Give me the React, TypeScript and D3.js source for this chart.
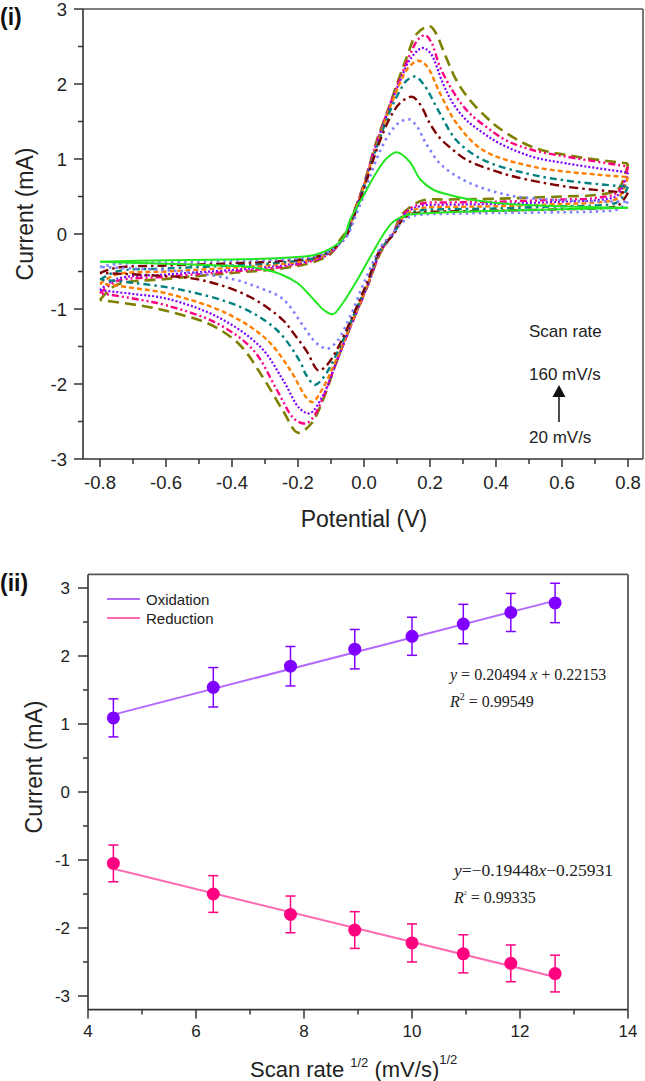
import React from "react";
import * as d3 from "d3";

type P = [number, number];

// ---------- Panel (i): cyclic voltammograms (potential V, current mA) ----------
const scanRates = [20, 40, 60, 80, 100, 120, 140, 160];

const fwd20: P[] = [[-0.8,-0.37],[-0.6,-0.35],[-0.4,-0.34],[-0.25,-0.32],[-0.15,-0.28],[-0.1,-0.19],[-0.063,-0.06],[-0.042,0.19],[-0.003,0.5],[0.039,0.83],[0.069,1.01],[0.1,1.09],[0.139,0.96],[0.17,0.73],[0.21,0.59],[0.26,0.52],[0.31,0.47],[0.41,0.41],[0.6,0.37],[0.8,0.35]];
const rev20: P[] = [[0.8,0.35],[0.6,0.33],[0.4,0.31],[0.25,0.29],[0.2,0.28],[0.13,0.25],[0.088,0.16],[0.058,-0.01],[0.03,-0.22],[0.008,-0.39],[-0.02,-0.61],[-0.064,-0.92],[-0.094,-1.07],[-0.12,-1.02],[-0.143,-0.92],[-0.174,-0.77],[-0.2,-0.66],[-0.245,-0.55],[-0.295,-0.48],[-0.345,-0.44],[-0.5,-0.41],[-0.65,-0.39],[-0.8,-0.37]];

const fwd40: P[] = [[-0.8,-0.44],[-0.75,-0.4],[-0.6,-0.38],[-0.4,-0.36],[-0.25,-0.34],[-0.15,-0.3],[-0.1,-0.22],[-0.07,-0.12],[-0.05,-0.02],[-0.025,0.25],[0.0,0.52],[0.018,0.76],[0.05,1.12],[0.079,1.35],[0.105,1.48],[0.136,1.53],[0.16,1.44],[0.18,1.27],[0.2,1.12],[0.23,0.94],[0.27,0.8],[0.32,0.68],[0.39,0.57],[0.46,0.5],[0.6,0.45],[0.8,0.43]];
const rev40: P[] = [[0.8,0.43],[0.77,0.33],[0.7,0.3],[0.6,0.29],[0.4,0.28],[0.25,0.27],[0.18,0.26],[0.14,0.23],[0.11,0.13],[0.08,-0.02],[0.05,-0.18],[0.0,-0.65],[-0.04,-1.08],[-0.08,-1.42],[-0.11,-1.53],[-0.13,-1.5],[-0.154,-1.41],[-0.185,-1.22],[-0.245,-0.87],[-0.315,-0.72],[-0.4,-0.6],[-0.55,-0.5],[-0.7,-0.46],[-0.8,-0.44]];

const fwd60: P[] = [[-0.8,-0.52],[-0.75,-0.45],[-0.6,-0.42],[-0.4,-0.39],[-0.25,-0.36],[-0.15,-0.31],[-0.1,-0.22],[-0.07,-0.1],[-0.05,0.0],[-0.025,0.3],[0.0,0.6],[0.025,0.95],[0.05,1.26],[0.08,1.56],[0.11,1.75],[0.145,1.83],[0.17,1.73],[0.2,1.47],[0.23,1.28],[0.27,1.12],[0.31,0.99],[0.39,0.85],[0.46,0.76],[0.615,0.63],[0.8,0.55]];
const rev60: P[] = [[0.8,0.55],[0.77,0.38],[0.7,0.34],[0.6,0.33],[0.4,0.31],[0.25,0.3],[0.18,0.29],[0.14,0.26],[0.11,0.15],[0.09,0.0],[0.05,-0.2],[0.01,-0.64],[-0.033,-1.08],[-0.083,-1.55],[-0.115,-1.76],[-0.138,-1.82],[-0.174,-1.56],[-0.214,-1.32],[-0.245,-1.15],[-0.345,-0.84],[-0.497,-0.61],[-0.65,-0.55],[-0.8,-0.52]];

const fwd80: P[] = [[-0.8,-0.61],[-0.75,-0.5],[-0.6,-0.46],[-0.4,-0.42],[-0.25,-0.38],[-0.15,-0.32],[-0.1,-0.22],[-0.07,-0.1],[-0.05,0.02],[-0.025,0.32],[0.0,0.62],[0.025,0.98],[0.05,1.3],[0.08,1.65],[0.11,1.92],[0.13,2.05],[0.155,2.1],[0.18,2.0],[0.23,1.61],[0.28,1.25],[0.36,0.99],[0.49,0.81],[0.6,0.72],[0.72,0.66],[0.8,0.63]];
const rev80: P[] = [[0.8,0.63],[0.77,0.43],[0.7,0.38],[0.6,0.37],[0.4,0.34],[0.25,0.33],[0.18,0.32],[0.14,0.28],[0.11,0.16],[0.09,0.0],[0.05,-0.21],[0.01,-0.66],[-0.033,-1.1],[-0.083,-1.6],[-0.124,-1.92],[-0.149,-2.01],[-0.175,-1.88],[-0.194,-1.7],[-0.264,-1.28],[-0.376,-0.97],[-0.548,-0.75],[-0.7,-0.65],[-0.8,-0.61]];

const fwd100: P[] = [[-0.8,-0.66],[-0.75,-0.54],[-0.6,-0.5],[-0.4,-0.45],[-0.25,-0.4],[-0.15,-0.33],[-0.1,-0.23],[-0.07,-0.1],[-0.05,0.03],[-0.025,0.33],[0.0,0.64],[0.025,1.0],[0.05,1.33],[0.08,1.7],[0.11,2.02],[0.135,2.22],[0.164,2.31],[0.19,2.24],[0.23,1.88],[0.28,1.48],[0.36,1.12],[0.51,0.9],[0.71,0.79],[0.8,0.76]];
const rev100: P[] = [[0.8,0.76],[0.77,0.48],[0.7,0.42],[0.6,0.4],[0.4,0.37],[0.25,0.36],[0.18,0.35],[0.14,0.3],[0.11,0.18],[0.09,0.01],[0.05,-0.22],[0.01,-0.68],[-0.033,-1.13],[-0.083,-1.66],[-0.124,-2.05],[-0.156,-2.24],[-0.173,-2.19],[-0.224,-1.81],[-0.294,-1.41],[-0.415,-1.06],[-0.6,-0.79],[-0.7,-0.72],[-0.8,-0.66]];

const fwd120: P[] = [[-0.8,-0.75],[-0.75,-0.6],[-0.6,-0.54],[-0.4,-0.48],[-0.25,-0.42],[-0.15,-0.34],[-0.1,-0.24],[-0.07,-0.1],[-0.05,0.03],[-0.025,0.34],[0.0,0.65],[0.025,1.02],[0.05,1.35],[0.08,1.72],[0.11,2.05],[0.14,2.33],[0.176,2.48],[0.2,2.42],[0.24,2.0],[0.27,1.74],[0.31,1.52],[0.36,1.35],[0.41,1.21],[0.51,1.03],[0.615,0.94],[0.8,0.82]];
const rev120: P[] = [[0.8,0.82],[0.77,0.52],[0.7,0.45],[0.6,0.43],[0.4,0.4],[0.25,0.39],[0.18,0.38],[0.14,0.32],[0.11,0.2],[0.09,0.02],[0.05,-0.23],[0.01,-0.7],[-0.033,-1.15],[-0.083,-1.7],[-0.124,-2.15],[-0.164,-2.39],[-0.194,-2.33],[-0.245,-1.95],[-0.315,-1.5],[-0.446,-1.1],[-0.6,-0.86],[-0.7,-0.8],[-0.8,-0.75]];

const fwd140: P[] = [[-0.8,-0.79],[-0.75,-0.63],[-0.6,-0.57],[-0.4,-0.5],[-0.25,-0.44],[-0.15,-0.35],[-0.1,-0.25],[-0.07,-0.1],[-0.05,0.04],[-0.025,0.35],[0.0,0.66],[0.025,1.04],[0.05,1.37],[0.08,1.74],[0.11,2.08],[0.14,2.4],[0.165,2.6],[0.185,2.65],[0.205,2.55],[0.23,2.23],[0.28,1.83],[0.32,1.61],[0.37,1.43],[0.43,1.25],[0.51,1.12],[0.615,1.03],[0.8,0.9]];
const rev140: P[] = [[0.8,0.9],[0.77,0.56],[0.7,0.48],[0.6,0.46],[0.4,0.43],[0.25,0.42],[0.18,0.41],[0.14,0.34],[0.11,0.21],[0.09,0.02],[0.05,-0.24],[0.01,-0.7],[-0.033,-1.15],[-0.083,-1.7],[-0.124,-2.18],[-0.15,-2.42],[-0.172,-2.52],[-0.19,-2.52],[-0.215,-2.45],[-0.264,-2.08],[-0.335,-1.55],[-0.446,-1.19],[-0.6,-0.95],[-0.7,-0.86],[-0.8,-0.79]];

const fwd160: P[] = [[-0.8,-0.88],[-0.75,-0.68],[-0.6,-0.6],[-0.4,-0.52],[-0.25,-0.46],[-0.15,-0.37],[-0.1,-0.26],[-0.073,-0.08],[-0.05,0.06],[-0.025,0.36],[0.0,0.67],[0.039,1.25],[0.07,1.62],[0.1,2.0],[0.13,2.36],[0.16,2.67],[0.2,2.77],[0.22,2.66],[0.24,2.45],[0.28,2.05],[0.32,1.79],[0.37,1.56],[0.41,1.41],[0.51,1.16],[0.645,1.03],[0.8,0.94]];
const rev160: P[] = [[0.8,0.94],[0.77,0.6],[0.7,0.52],[0.6,0.5],[0.4,0.47],[0.25,0.46],[0.18,0.45],[0.14,0.36],[0.11,0.23],[0.09,0.02],[0.05,-0.25],[0.01,-0.7],[-0.033,-1.15],[-0.083,-1.7],[-0.124,-2.21],[-0.16,-2.53],[-0.2,-2.65],[-0.245,-2.36],[-0.305,-1.92],[-0.376,-1.48],[-0.46,-1.22],[-0.567,-1.06],[-0.67,-0.96],[-0.8,-0.88]];

const cvForward = [fwd20, fwd40, fwd60, fwd80, fwd100, fwd120, fwd140, fwd160];
const cvReverse = [rev20, rev40, rev60, rev80, rev100, rev120, rev140, rev160];

const cvXTicks = [-0.8, -0.6, -0.4, -0.2, 0.0, 0.2, 0.4, 0.6, 0.8];
const cvXMinor = [-0.7, -0.5, -0.3, -0.1, 0.1, 0.3, 0.5, 0.7];
const cvYTicks = [-3, -2, -1, 0, 1, 2, 3];
const cvYMinor = [-2.5, -1.5, -0.5, 0.5, 1.5, 2.5];

// ---------- Panel (ii): peak current vs sqrt(scan rate) ----------
const sqrtRate = [4.47, 6.32, 7.75, 8.94, 10.0, 10.95, 11.83, 12.65];
const oxidationPeak = [1.09, 1.54, 1.85, 2.1, 2.29, 2.47, 2.64, 2.78];
const oxidationErr = [0.28, 0.29, 0.29, 0.29, 0.28, 0.29, 0.28, 0.29];
const reductionPeak = [-1.05, -1.5, -1.8, -2.03, -2.22, -2.38, -2.52, -2.67];
const reductionErr = [0.27, 0.27, 0.27, 0.27, 0.28, 0.28, 0.27, 0.27];
const oxidationFit = [0.20494, 0.22153];
const reductionFit = [-0.19448, -0.25931];
const srXTicks = [4, 6, 8, 10, 12, 14];
const srXMinor = [5, 7, 9, 11, 13];
const srYTicks = [-3, -2, -1, 0, 1, 2, 3];
const srYMinor = [-2.5, -1.5, -0.5, 0.5, 1.5, 2.5];

// ---------- styles ----------
const cvStyles = [
  { color: "#22e622", dash: "", width: 2 },
  { color: "#7f7fff", dash: "2.5,4", width: 2.6 },
  { color: "#7f0000", dash: "9,4,2.5,4", width: 2.4 },
  { color: "#008080", dash: "7,4,2.5,4", width: 2.4 },
  { color: "#ff8000", dash: "5,3", width: 2.4 },
  { color: "#8000ff", dash: "2,2", width: 2.2 },
  { color: "#ff0080", dash: "7,3,2,3,2,3", width: 2.4 },
  { color: "#808000", dash: "11,6", width: 2.6 },
];

const SANS = "'Liberation Sans', Arial, sans-serif";
const SERIF = "'Liberation Serif', 'Times New Roman', serif";
const TXT = "#222";

export default function App() {
  // Panel (i) scales
  const x1 = d3.scaleLinear().domain([-0.8515, 0.8455]).range([83, 643]);
  const y1 = d3.scaleLinear().domain([-3, 3]).range([459, 9]);
  const cvLine = d3
    .line<P>()
    .x((d) => x1(d[0]))
    .y((d) => y1(d[1]))
    .curve(d3.curveCatmullRom.alpha(0.5));

  // Panel (ii) scales
  const x2 = d3.scaleLinear().domain([4, 14]).range([88, 628]);
  const y2 = d3.scaleLinear().domain([-3.2, 3.2]).range([1009.6, 574.4]);

  const fitLine = (fit: number[]) => {
    const xs = [sqrtRate[0], sqrtRate[sqrtRate.length - 1]];
    return d3
      .line<number>()
      .x((v) => x2(v))
      .y((v) => y2(fit[0] * v + fit[1]))(xs) as string;
  };

  const left1 = x1.range()[0], right1 = x1.range()[1];
  const top1 = y1.range()[1], bot1 = y1.range()[0];
  const left2 = x2.range()[0], right2 = x2.range()[1];
  const top2 = y2(3.2), bot2 = y2(-3.2);

  const order = [7, 6, 5, 4, 3, 2, 1, 0];

  return (
    <svg
      width={645}
      height={1081}
      style={{ position: "absolute", left: 0, top: 0, background: "#fff" }}
      fontFamily={SANS}
    >
      <rect x={0} y={0} width={645} height={1081} fill="#fff" />
      <defs>
        <clipPath id="cvclip">
          <rect x={left1} y={top1} width={right1 - left1} height={bot1 - top1} />
        </clipPath>
      </defs>

      {/* ================= Panel (i) ================= */}
      <text x={0} y={25} fontSize={23} fontWeight="bold" fill="#111">(i)</text>

      <g clipPath="url(#cvclip)">
        {order.map((k) => (
          <g key={scanRates[k]}>
            {[cvForward[k], cvReverse[k]].map((branch, j) => (
              <path
                key={j}
                d={cvLine(branch) as string}
                fill="none"
                stroke={cvStyles[k].color}
                strokeWidth={cvStyles[k].width}
                strokeDasharray={cvStyles[k].dash || undefined}
              />
            ))}
          </g>
        ))}
      </g>

      {/* frame */}
      <line x1={left1} y1={top1} x2={right1} y2={top1} stroke="#555" strokeWidth={1.6} />
      <line x1={right1} y1={top1} x2={right1} y2={bot1} stroke="#555" strokeWidth={1.6} />
      <line x1={left1} y1={top1} x2={left1} y2={bot1} stroke="#333" strokeWidth={1.6} />
      <line x1={left1} y1={bot1} x2={right1} y2={bot1} stroke="#333" strokeWidth={1.6} />

      {cvYTicks.map((t) => (
        <g key={"y1" + t}>
          <line x1={left1 - 9} x2={left1} y1={y1(t)} y2={y1(t)} stroke="#333" strokeWidth={1.5} />
          <text x={67} y={y1(t)} dy="0.36em" textAnchor="end" fontSize={18.5} fill={TXT}>
            {t}
          </text>
        </g>
      ))}
      {cvYMinor.map((t) => (
        <line key={"y1m" + t} x1={left1 - 5} x2={left1} y1={y1(t)} y2={y1(t)} stroke="#333" strokeWidth={1.5} />
      ))}
      {cvXTicks.map((t) => (
        <g key={"x1" + t}>
          <line x1={x1(t)} x2={x1(t)} y1={bot1} y2={bot1 + 8} stroke="#333" strokeWidth={1.5} />
          <text x={x1(t)} y={489} textAnchor="middle" fontSize={18.5} fill={TXT}>
            {t.toFixed(1)}
          </text>
        </g>
      ))}
      {cvXMinor.map((t) => (
        <line key={"x1m" + t} x1={x1(t)} x2={x1(t)} y1={bot1} y2={bot1 + 5} stroke="#333" strokeWidth={1.5} />
      ))}

      <text x={x1(0)} y={527} textAnchor="middle" fontSize={23} fill={TXT}>Potential (V)</text>
      <text
        transform={`translate(33, 214) rotate(-90)`}
        textAnchor="middle"
        fontSize={23}
        fill={TXT}
      >
        Current (mA)
      </text>

      {/* scan-rate annotation */}
      <text x={529} y={337} fontSize={17} fill={TXT}>Scan rate</text>
      <text x={529} y={380} fontSize={17} fill={TXT}>{`${scanRates[scanRates.length - 1]} mV/s`}</text>
      <text x={529} y={443} fontSize={17} fill={TXT}>{`${scanRates[0]} mV/s`}</text>
      <line x1={559} y1={422} x2={559} y2={396} stroke="#111" strokeWidth={1.5} />
      <path d="M559,385 L565.5,397 L552.5,397 Z" fill="#111" />

      {/* ================= Panel (ii) ================= */}
      <text x={0} y={591} fontSize={23} fontWeight="bold" fill="#111">(ii)</text>

      {/* frame */}
      <line x1={left2} y1={top2} x2={right2} y2={top2} stroke="#555" strokeWidth={1.6} />
      <line x1={right2} y1={top2} x2={right2} y2={bot2} stroke="#666" strokeWidth={2} />
      <line x1={left2} y1={top2} x2={left2} y2={bot2} stroke="#333" strokeWidth={1.6} />
      <line x1={left2} y1={bot2} x2={right2} y2={bot2} stroke="#333" strokeWidth={1.6} />

      {srYTicks.map((t) => (
        <g key={"y2" + t}>
          <line x1={left2 - 10} x2={left2} y1={y2(t)} y2={y2(t)} stroke="#333" strokeWidth={1.5} />
          <text x={70} y={y2(t)} dy="0.36em" textAnchor="end" fontSize={17} fill={TXT}>
            {t}
          </text>
        </g>
      ))}
      {srYMinor.map((t) => (
        <line key={"y2m" + t} x1={left2 - 5} x2={left2} y1={y2(t)} y2={y2(t)} stroke="#333" strokeWidth={1.5} />
      ))}
      {srXTicks.map((t) => (
        <g key={"x2" + t}>
          <line x1={x2(t)} x2={x2(t)} y1={bot2} y2={bot2 + 9} stroke="#333" strokeWidth={1.5} />
          <text x={x2(t)} y={1037} textAnchor="middle" fontSize={17} fill={TXT}>
            {t}
          </text>
        </g>
      ))}
      {srXMinor.map((t) => (
        <line key={"x2m" + t} x1={x2(t)} x2={x2(t)} y1={bot2} y2={bot2 + 5} stroke="#333" strokeWidth={1.5} />
      ))}

      <text x={250} y={1077} fontSize={22} fill={TXT}>
        {"Scan rate "}
        <tspan fontSize={13} dy={-10}>1/2</tspan>
        <tspan dy={10}>{" (mV/s)"}</tspan>
        <tspan fontSize={13} dy={-13}>1/2</tspan>
      </text>
      <text
        transform={`translate(42, 767) rotate(-90)`}
        textAnchor="middle"
        fontSize={23}
        fill={TXT}
      >
        Current (mA)
      </text>

      {/* fit lines */}
      <path d={fitLine(oxidationFit)} stroke="#b36bff" strokeWidth={2} fill="none" />
      <path d={fitLine(reductionFit)} stroke="#ff6ab5" strokeWidth={2} fill="none" />

      {/* error bars + points */}
      {sqrtRate.map((sx, i) => (
        <g key={"ox" + i} stroke="#8000ff" strokeWidth={1.5}>
          <line x1={x2(sx)} x2={x2(sx)} y1={y2(oxidationPeak[i] + oxidationErr[i])} y2={y2(oxidationPeak[i] - oxidationErr[i])} />
          <line x1={x2(sx) - 5} x2={x2(sx) + 5} y1={y2(oxidationPeak[i] + oxidationErr[i])} y2={y2(oxidationPeak[i] + oxidationErr[i])} />
          <line x1={x2(sx) - 5} x2={x2(sx) + 5} y1={y2(oxidationPeak[i] - oxidationErr[i])} y2={y2(oxidationPeak[i] - oxidationErr[i])} />
          <circle cx={x2(sx)} cy={y2(oxidationPeak[i])} r={6.5} fill="#8000ff" stroke="none" />
        </g>
      ))}
      {sqrtRate.map((sx, i) => (
        <g key={"red" + i} stroke="#ff0080" strokeWidth={1.5}>
          <line x1={x2(sx)} x2={x2(sx)} y1={y2(reductionPeak[i] + reductionErr[i])} y2={y2(reductionPeak[i] - reductionErr[i])} />
          <line x1={x2(sx) - 5} x2={x2(sx) + 5} y1={y2(reductionPeak[i] + reductionErr[i])} y2={y2(reductionPeak[i] + reductionErr[i])} />
          <line x1={x2(sx) - 5} x2={x2(sx) + 5} y1={y2(reductionPeak[i] - reductionErr[i])} y2={y2(reductionPeak[i] - reductionErr[i])} />
          <circle cx={x2(sx)} cy={y2(reductionPeak[i])} r={6.5} fill="#ff0080" stroke="none" />
        </g>
      ))}

      {/* legend */}
      <line x1={107} x2={140} y1={599} y2={599} stroke="#b36bff" strokeWidth={2} />
      <text x={146} y={604.5} fontSize={15} fill={TXT}>Oxidation</text>
      <line x1={107} x2={140} y1={618} y2={618} stroke="#ff6ab5" strokeWidth={2} />
      <text x={146} y={623.5} fontSize={15} fill={TXT}>Reduction</text>

      {/* equations */}
      <text x={450} y={680} fontSize={16} fontFamily={SERIF} fill={TXT}>
        <tspan fontStyle="italic">y</tspan>
        {` = ${oxidationFit[0].toFixed(5)} `}
        <tspan fontStyle="italic">x</tspan>
        {` + ${oxidationFit[1].toFixed(5)}`}
      </text>
      <text x={450} y={707} fontSize={16} fontFamily={SERIF} fill={TXT}>
        <tspan fontStyle="italic">R</tspan>
        <tspan fontSize={10} dy={-7}>2</tspan>
        <tspan dy={7}>{" = 0.99549"}</tspan>
      </text>
      <text x={454} y={876} fontSize={16} fontFamily={SERIF} fill={TXT} textLength={159} lengthAdjust="spacingAndGlyphs">
        <tspan fontStyle="italic">y</tspan>
        {`=\u2212${Math.abs(reductionFit[0]).toFixed(5)}`}
        <tspan fontStyle="italic">x</tspan>
        {`\u2212${Math.abs(reductionFit[1]).toFixed(5)}`}
      </text>
      <text x={454} y={903} fontSize={16} fontFamily={SERIF} fill={TXT}>
        <tspan fontStyle="italic">R</tspan>
        <tspan fontSize={6} dy={-8}>2</tspan>
        <tspan dy={8}>{" = 0.99335"}</tspan>
      </text>
    </svg>
  );
}
